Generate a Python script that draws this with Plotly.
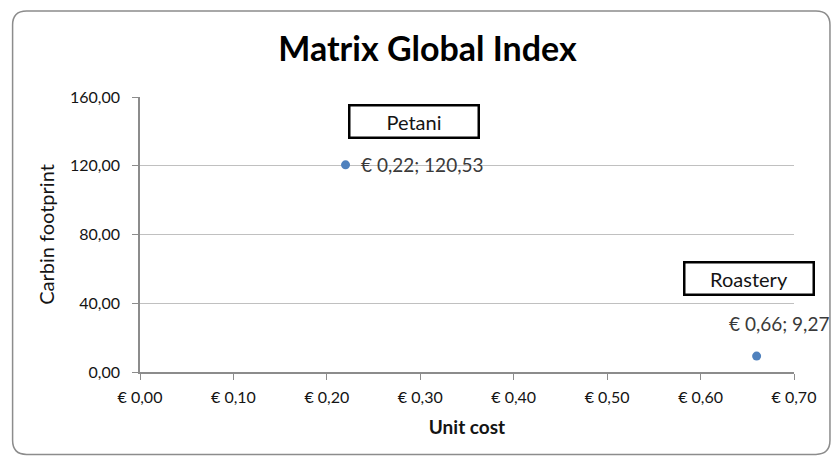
import plotly.graph_objects as go

names = ["Petani", "Roastery"]
unit_cost = [0.22, 0.66]
carbon = [120.53, 9.27]

def fmt(v):
    return f"{v:.2f}".replace(".", ",")

labels = [f"€ {fmt(x)}; {fmt(y)}" for x, y in zip(unit_cost, carbon)]

W, H = 833, 457
L, T = 139.5, 97
R = W - 794
B = H - 371.7
pw, ph = W - L - R, H - T - B

def px2paper(px, py):
    return (px - L) / pw, 1 - (py - T) / ph

FONT = "Lato"
TXT = "#141414"
fig = go.Figure()
fig.add_trace(go.Scatter(
    x=unit_cost, y=carbon, mode="markers",
    marker=dict(color="#4F81BD", size=9),
    cliponaxis=False, showlegend=False, hoverinfo="skip"))

# rounded chart border
x0, y0 = px2paper(12, 11)
x1, y1 = px2paper(830, 454)
rx = 14 / pw
ry = 14 / ph
path = (f"M {x0+rx},{y0} L {x1-rx},{y0} Q {x1},{y0} {x1},{y0-ry} "
        f"L {x1},{y1+ry} Q {x1},{y1} {x1-rx},{y1} L {x0+rx},{y1} "
        f"Q {x0},{y1} {x0},{y1+ry} L {x0},{y0-ry} Q {x0},{y0} {x0+rx},{y0} Z")
fig.add_shape(type="path", path=path, xref="paper", yref="paper",
              line=dict(color="#8c8c8c", width=1.5), layer="below")

annots = []
# data labels
label_shift = [(13, 0), (-30, 33)]
for x, y, t, (dx, dy) in zip(unit_cost, carbon, labels, label_shift):
    annots.append(dict(x=x, y=y, xref="x", yref="y", text=t, showarrow=False,
                       xanchor="left", yanchor="middle", xshift=dx, yshift=dy,
                       font=dict(family=FONT, size=19, color="#3a3a3a")))
# name boxes
box_pos = [(0.2935, 145.5), (0.6515, 54.5)]
for n, (bx, by) in zip(names, box_pos):
    annots.append(dict(x=bx, y=by, xref="x", yref="y", text=n, showarrow=False,
                       font=dict(family=FONT, size=20, color=TXT),
                       bordercolor="black", borderwidth=2.5, bgcolor="white",
                       width=125, height=28, align="center"))

fig.update_layout(
    width=W, height=H,
    margin=dict(l=L, r=R, t=T, b=B),
    paper_bgcolor="white", plot_bgcolor="white",
    separators=",.",
    title=dict(text="<b>Matrix Global Index</b>", x=427.5 / W, xanchor="center",
               y=1 - 49 / H, yanchor="middle",
               font=dict(family=FONT, size=34, color="black")),
    xaxis=dict(range=[0, 0.7], dtick=0.1, tick0=0, tickformat=".2f", tickprefix="€ ",
               showgrid=False, zeroline=False, showline=True, linecolor="#8c8c8c",
               linewidth=1.5, ticks="outside", ticklen=6, tickcolor="#8c8c8c",
               ticklabelstandoff=4,
               tickfont=dict(family=FONT, size=16, color=TXT),
               title=dict(text="<b>Unit cost</b>", standoff=16,
                          font=dict(family=FONT, size=19, color=TXT))),
    yaxis=dict(range=[0, 160], dtick=40, tick0=0, tickformat=".2f",
               showgrid=True, gridcolor="#c0c0c0", gridwidth=1.2, zeroline=False,
               showline=True, linecolor="#8c8c8c", linewidth=1.5,
               ticks="outside", ticklen=6, tickcolor="#8c8c8c",
               ticklabelstandoff=9,
               tickfont=dict(family=FONT, size=16, color=TXT),
               title=dict(text="Carbin footprint", standoff=10,
                          font=dict(family=FONT, size=20, color=TXT))),
    annotations=annots,
)

fig.write_html("out.html", config={"displayModeBar": False},
               post_script="document.body.style.margin='0';document.body.style.overflow='hidden';")
